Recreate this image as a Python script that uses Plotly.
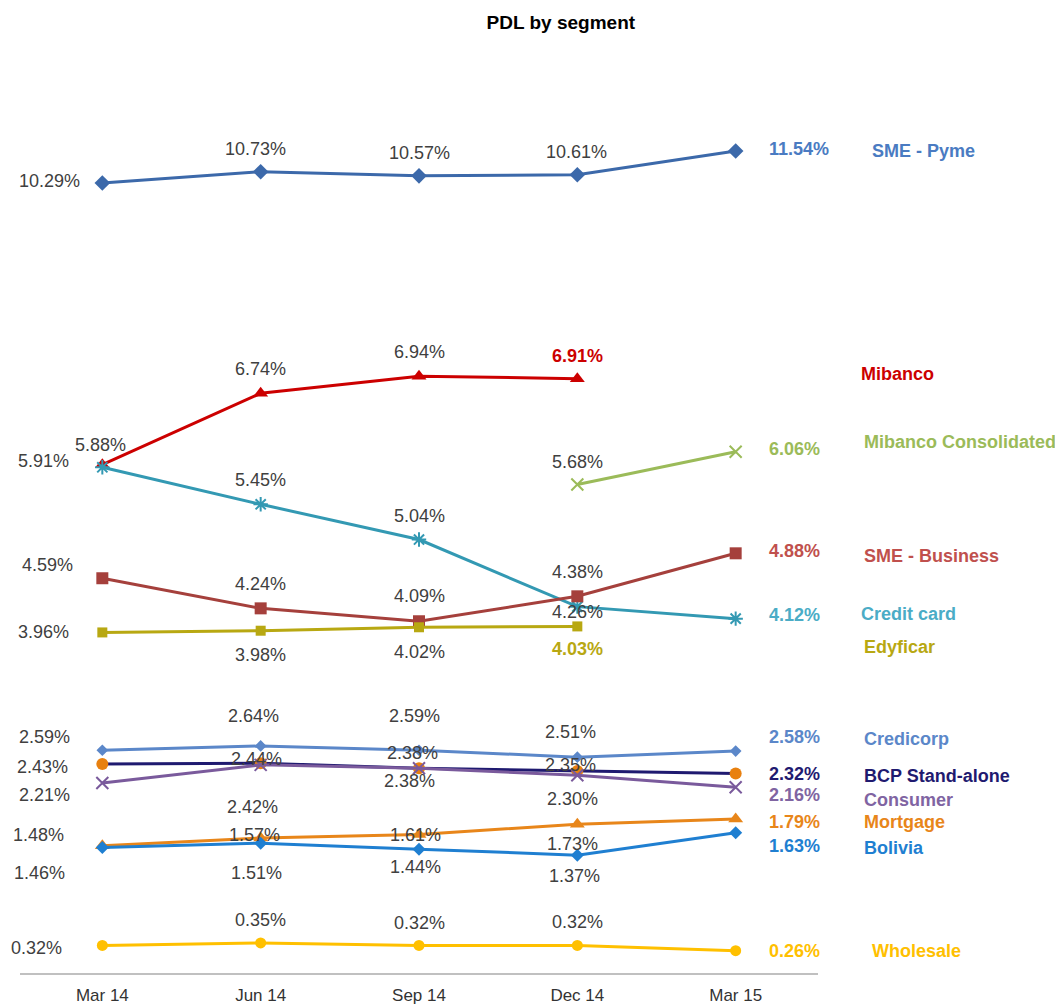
import plotly.graph_objects as go

# ---------------- data ----------------
categories = ["Mar 14", "Jun 14", "Sep 14", "Dec 14", "Mar 15"]
sme_pyme = [10.29, 10.73, 10.57, 10.61, 11.54]
mibanco = [5.91, 6.74, 6.94, 6.91, None]
mibanco_consolidated = [None, None, None, 5.68, 6.06]
credit_card = [5.88, 5.45, 5.04, 4.26, 4.12]
sme_business = [4.59, 4.24, 4.09, 4.38, 4.88]
edyficar = [3.96, 3.98, 4.02, 4.03, None]
credicorp = [2.59, 2.64, 2.59, 2.51, 2.58]
bcp_stand_alone = [2.43, 2.44, 2.38, 2.35, 2.32]
consumer = [2.21, 2.42, 2.38, 2.30, 2.16]
mortgage = [1.48, 1.57, 1.61, 1.73, 1.79]
bolivia = [1.46, 1.51, 1.44, 1.37, 1.63]
wholesale = [0.32, 0.35, 0.32, 0.32, 0.26]

series = [
    ("SME - Pyme", sme_pyme),
    ("Mibanco", mibanco),
    ("Mibanco Consolidated", mibanco_consolidated),
    ("Credit card", credit_card),
    ("SME - Business", sme_business),
    ("Edyficar", edyficar),
    ("Credicorp", credicorp),
    ("BCP Stand-alone", bcp_stand_alone),
    ("Consumer", consumer),
    ("Mortgage", mortgage),
    ("Bolivia", bolivia),
    ("Wholesale", wholesale),
]

# ---------------- styles / label placement ----------------
R = "right"; C = "center"; L = "left"
styles = {
    "SME - Pyme": dict(line="#3c69aa", text="#4a7bc2", sym="diamond", size=12, mcolor=None, yaxis="y2",
                       labels=[(-20, 2, R), (-5, 23, C), (0, 23, C), (-1, 23, C), (31, 2, L)], name=(134, 0)),
    "Mibanco": dict(line="#cc0000", text="#cc0000", sym="triangle-up", size=13, mcolor=None,
                    labels=[(-31, 4, R), (0, 24, C), (0, 24, C), (0, 23, C), None], name=(123, 5)),
    "Mibanco Consolidated": dict(line="#9bbb59", text="#9bbb59", sym="x-thin-open", size=12, mcolor=None,
                                 labels=[None, None, None, (0, 23, C), (31, 3, L)], name=(126, 10)),
    "Credit card": dict(line="#3399b3", text="#4bacc6", sym="asterisk-open", size=12, mcolor=None,
                        labels=[(-2, 22, C), (0, 24, C), (0, 24, C), (0, -5, C), (31, 4, L)], name=(123, 5)),
    "SME - Business": dict(line="#a5403c", text="#c0504d", sym="square", size=12, mcolor=None,
                           labels=[(-27, 13, R), (0, 24, C), (0, 25, C), (0, 24, C), (31, 2, L)], name=(126, -3)),
    "Edyficar": dict(line="#b8a812", text="#b8a812", sym="square", size=10, mcolor=None,
                     labels=[(-31, 0, R), (0, -24, C), (0, -25, C), (0, -23, C), None], name=(126, -21)),
    "Credicorp": dict(line="#5b87c9", text="#5b87c9", sym="diamond", size=9, mcolor=None,
                      labels=[(-30, 13, R), (-7, 30, C), (-5, 34, C), (-7, 25, C), (31, 14, L)], name=(126, 12)),
    "BCP Stand-alone": dict(line="#1f1a70", text="#1f1a70", sym="circle", size=12, mcolor="#e8800f",
                            labels=[(-32, -3, R), (-4, 4, C), (-7, 15, C), (-7, 6, C), (31, -1, L)], name=(126, -3)),
    "Consumer": dict(line="#7a5a9c", text="#8064a2", sym="x-thin-open", size=12, mcolor=None,
                     labels=[(-30, -12, R), (-8, -42, C), (-10, -13, C), (-5, -24, C), (31, -8, L)], name=(126, -13)),
    "Mortgage": dict(line="#e8861a", text="#e8861a", sym="triangle-up", size=13, mcolor=None,
                     labels=[(-36, 11, R), (-6, 3, C), (-4, 0, C), (-5, -20, C), (31, -3, L)], name=(126, -3)),
    "Bolivia": dict(line="#1f7fd1", text="#1f7fd1", sym="diamond", size=10, mcolor=None,
                    labels=[(-35, -26, R), (-4, -30, C), (-4, -18, C), (-3, -21, C), (31, -13, L)], name=(126, -15)),
    "Wholesale": dict(line="#ffc000", text="#ffc000", sym="circle", size=11, mcolor=None,
                      labels=[(-38, -3, R), (0, 23, C), (0, 22, C), (0, 23, C), (31, 0, L)], name=(134, 0)),
}

FONT = "Arial, Liberation Sans, sans-serif"
VAL_SIZE = 18
NAME_SIZE = 18

fig = go.Figure()
annotations = []

for name, vals in series:
    st = styles[name]
    yaxis = st.get("yaxis", "y")
    sym = st["sym"]
    open_sym = sym.endswith("open")
    mcol = st["mcolor"] or st["line"]
    marker = dict(symbol=sym, size=st["size"], color=mcol)
    if open_sym:
        marker["line"] = dict(color=mcol, width=2)
    else:
        marker["line"] = dict(width=0)
    fig.add_trace(go.Scatter(
        x=categories, y=vals, mode="lines+markers", name=name,
        line=dict(color=st["line"], width=3), marker=marker,
        yaxis=yaxis, connectgaps=False, showlegend=False, cliponaxis=False,
    ))
    last_idx = max(i for i, v in enumerate(vals) if v is not None)
    yref = yaxis
    for i, v in enumerate(vals):
        if v is None or st["labels"][i] is None:
            continue
        dx, dy, anchor = st["labels"][i]
        is_last = i == last_idx
        annotations.append(dict(
            x=categories[i], y=v, xref="x", yref=yref,
            text=f"<b>{v:.2f}%</b>" if is_last else f"{v:.2f}%",
            showarrow=False, xanchor=anchor, yanchor="middle",
            xshift=dx, yshift=dy,
            font=dict(family=FONT, size=VAL_SIZE, color=st["text"] if is_last else "#404040"),
        ))
    nx, ny = st["name"]
    annotations.append(dict(
        x=categories[-1], y=vals[last_idx], xref="x", yref=yref,
        text=f"<b>{name}</b>", showarrow=False, xanchor="left", yanchor="middle",
        xshift=nx, yshift=ny,
        font=dict(family=FONT, size=NAME_SIZE, color=st["text"]),
    ))

fig.update_layout(
    width=1055, height=997,
    margin=dict(l=12, r=245, t=52, b=32, autoexpand=False),
    paper_bgcolor="white", plot_bgcolor="white",
    title=dict(text="<b>PDL by segment</b>", x=0.524, xanchor="center", y=0.986, yanchor="middle",
               font=dict(family=FONT, size=19, color="#000000")),
    font=dict(family=FONT),
    annotations=annotations,
    xaxis=dict(type="category", range=[-0.52, 4.52], showline=True, linecolor="#c0c0c0", linewidth=2,
               showgrid=False, zeroline=False, ticks="outside", ticklen=6, tickcolor="rgba(0,0,0,0)",
               automargin=False,
               tickfont=dict(family=FONT, size=17, color="#333333")),
    yaxis=dict(range=[0, 10.616], visible=False, showgrid=False, zeroline=False, automargin=False),
    yaxis2=dict(range=[-20.57, 15.095], overlaying="y", side="right", visible=False,
                showgrid=False, zeroline=False, automargin=False),
)

fig.write_html("out.html")
